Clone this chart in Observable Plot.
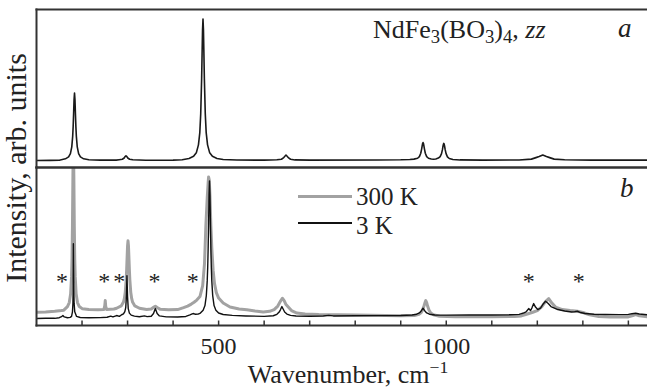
<!DOCTYPE html>
<html><head><meta charset="utf-8">
<script src="https://cdn.jsdelivr.net/npm/d3@7"></script>
<script src="https://cdn.jsdelivr.net/npm/@observablehq/plot@0.6"></script>
<style>
body{margin:0;background:#fff;}
#wrap{position:relative;width:647px;height:391px;overflow:hidden;font-family:"Liberation Serif","Times New Roman","DejaVu Serif",serif;color:#222;}
#wrap svg{position:absolute;left:0;top:0;}
.ov{position:absolute;white-space:nowrap;line-height:1;}
.ov sub{font-size:0.72em;vertical-align:-0.28em;line-height:0;}
.ov sup{font-size:0.68em;vertical-align:0.55em;line-height:0;}
.leg{position:absolute;}
</style></head><body><div id="wrap"></div>
<script>
// Panel a: NdFe3(BO3)4, zz  (wavenumber cm-1, intensity arb. units)
const zzSpectrum = [[100,7.0],[130,7.1],[150,7.3],[163.5,8.7],[170.5,10.6],[174.5,14],[177.5,20.7],[179.5,31.5],[180.5,41],[181.5,54],[182.5,68],[183.5,74.8],[184.5,68],[185.5,54],[186.5,41],[187.5,31.5],[189.5,20.7],[192.5,14],[196.5,10.6],[203.5,8.7],[215,7.8],[240,7.4],[275,7.4],[281.5,7.8],[288.5,8.3],[292.5,9.5],[294.5,10.9],[296.5,11.8],[298.5,10.9],[300.5,9.5],[304.5,8.3],[311.5,7.7],[340,7.3],[400,7.4],[420,7.8],[435,9.0],[445,11.2],[451,14.7],[455.7,22.7],[458.7,35],[460.7,54],[462.7,89],[463.7,114],[464.7,138],[465.7,149],[466.7,138],[467.7,114],[468.7,89],[470.7,54],[472.7,35],[475.7,22.7],[480.4,14.7],[486.4,11.2],[496.4,9.0],[510,8.0],[540,7.5],[600,7.4],[628,7.7],[638,8.3],[643,9.9],[645,11.1],[648,12.5],[651,11.1],[653,9.9],[658,8.3],[668,7.6],[700,7.4],[850,7.5],[900,7.7],[920,8.0],[929,8.4],[937,9.3],[941,10.9],[944,14.3],[946,18.7],[947,21.5],[948,24],[949,25],[950,24],[951,21.5],[952,18.7],[954,14.3],[957,10.9],[961,9.3],[967,8.5],[972,8.3],[977,8.6],[982.6,9.5],[986.6,11],[989.6,13.9],[991.6,17.9],[992.6,20.8],[993.6,23],[994.6,24.2],[995.6,23],[996.6,20.8],[997.6,17.9],[999.6,13.9],[1002.6,10.7],[1006.6,9],[1014.6,8],[1030,7.6],[1080,7.4],[1160,7.5],[1187,8.4],[1197,9.9],[1204,11],[1212,12.5],[1220,11],[1227,9.9],[1237,8.4],[1260,7.7],[1320,7.4],[1442,7.4]];

// Panel b: 300 K
const spec300K = [[100,13.2],[120,13.5],[140,14.2],[155,15],[160,15.4],[168,19],[172,23],[175,32],[177,49],[178,67],[179,100],[180,151],[181,185],[182,151],[183,100],[184,67],[185,49],[187,32],[190,23],[194,19],[201,16.7],[215,16],[235,15.8],[248,16],[250,20],[251,25],[252,19],[254,16],[270,16.5],[276,17.3],[286,19.6],[291,23.5],[293,27.1],[295,33.5],[297,45.9],[298,55.9],[299,68],[300,79.8],[301,85],[302,79.8],[303,68],[304,55.9],[305,45.9],[307,33.5],[309,27.1],[311,23.5],[316,19.6],[326,17.3],[342,16],[352,16.5],[358,18.5],[361,19.3],[365,18],[372,16.2],[390,15.7],[410,16],[423,18],[432,19.5],[440,21.5],[446,23.3],[452,25.5],[459,29],[465,40],[469,62],[472,100],[475,128],[477,143],[478,149],[479.5,146],[481,130],[483,100],[485,78],[488,55],[491,42],[495,33],[500,27.5],[510,22.5],[525,18.5],[545,16.5],[562,15.7],[580,14.5],[598,13.5],[612,14.2],[622,16],[630,19.5],[636,24.5],[640,27.3],[644,25],[648,21],[653,18.5],[660,15],[672,12.5],[690,11.5],[720,11],[800,10.5],[900,9.8],[930,10],[940,11.2],[945,13],[948,15.5],[951,19.5],[953,22.5],[955,25],[957,23],[959,19.5],[962,15.5],[966,12.5],[972,10.8],[985,9.3],[1020,8.8],[1100,8.7],[1150,9],[1165,9.6],[1178,11.5],[1190,13.3],[1200,15],[1210,19],[1218,24],[1225,27],[1232,22.5],[1240,18.5],[1255,16],[1272,15],[1288,14.3],[1300,13],[1315,10.8],[1335,9],[1360,8.5],[1400,8.6],[1410,10],[1416,11],[1424,9.8],[1442,8.6]];

// Panel b: 3 K
const spec3K = [[100,7.0],[120,7.3],[140,7.2],[150,7.8],[155,8.8],[158,10],[161,8.6],[168,7.8],[174,8.1],[177,9.1],[179,13.7],[180,22.4],[180.4,33],[180.8,55],[181,82],[181.3,62],[181.8,40],[182.6,22.4],[184,13.7],[188,9.1],[196,8],[215,7.8],[240,7.9],[255,8.3],[263,9.4],[268,8.6],[276,10],[282,9.2],[287,10.8],[291,11.6],[294,14],[296,18],[297.5,29],[298.2,41.6],[298.7,50],[299.2,41.6],[300,29],[301.5,17],[304,12.4],[308,10.4],[315,9.4],[326,8.8],[337,9.6],[343,8.9],[352,9.3],[357,12],[359,14.5],[361,17],[363,14.5],[365,12],[370,9.6],[385,8.7],[410,8.6],[428,9.1],[437,10.6],[442,11.6],[445,12],[449,11.3],[455,11.4],[460,12.5],[466,15.4],[470,20],[473,30],[475,45],[476,58],[477,77],[478,103],[479,131],[480,145],[481,131],[482,103],[483,77],[484,58],[485,45],[487,30],[490,20],[494,15.4],[500,12.5],[510,11],[530,10.2],[560,9.6],[600,9.2],[620,9.8],[628,11.2],[633,13.5],[636,16],[639,19],[642,16.3],[645,13.6],[650,11.5],[658,10.2],[670,9.5],[700,9.3],[730,9.5],[742,10.2],[752,9.6],[800,9.8],[850,9.9],[900,10.1],[925,10.5],[935,11.3],[941,12.6],[945,14.6],[949,17.3],[953,14.6],[957,12.6],[963,11.3],[975,10.5],[1000,10.4],[1050,10.5],[1100,10.6],[1140,10.8],[1160,11.2],[1170,12.5],[1176,14],[1181,17],[1185,15],[1188,17.5],[1192,22],[1196,18.5],[1201,16],[1207,17.5],[1212,21],[1218,24.3],[1224,22],[1230,19],[1245,16],[1260,14.5],[1275,13.5],[1282,13.8],[1288,14.3],[1295,13],[1305,12],[1325,11.3],[1350,11],[1380,10.9],[1400,11.1],[1408,11.8],[1416,12.3],[1424,11.5],[1442,10.8]];

// asterisk-marked features (cm-1)
const starWaves = [156, 249, 282, 359, 443, 1181, 1291];
const tickLabels = [500, 1000];
const tickMarks = [200, 300, 400, 500, 600, 700, 800, 900, 1000, 1100, 1200, 1300, 1400];
const xDomain = [100, 1442];
const yDomain = [0, 158.5];
const panels = ["a", "b"];

const rows = [
  ...zzSpectrum.map(([w, i]) => ({w, i, series: "zz", panel: "a"})),
  ...spec300K.map(([w, i]) => ({w, i, series: "300 K", panel: "b"})),
  ...spec3K.map(([w, i]) => ({w, i, series: "3 K", panel: "b"}))
];

const frameColor = "#333";
const chart = Plot.plot({
  width: 647, height: 391,
  marginTop: 8, marginBottom: 66, marginLeft: 36, marginRight: 0,
  x: {domain: xDomain, axis: null},
  y: {domain: yDomain, axis: null},
  fy: {domain: panels, axis: null, padding: 0},
  style: {fontFamily: "'Liberation Serif', 'Times New Roman', 'DejaVu Serif', serif", background: "transparent", color: "#222"},
  marks: [
    Plot.line(rows.filter(d => d.series === "300 K"), {x: "w", y: "i", fy: "panel", stroke: "#a2a2a2", strokeWidth: 3, clip: true}),
    Plot.line(rows.filter(d => d.series === "3 K"), {x: "w", y: "i", fy: "panel", stroke: "#111", strokeWidth: 1.4, clip: true}),
    Plot.line(rows.filter(d => d.series === "zz"), {x: "w", y: "i", fy: "panel", stroke: "#1a1a1a", strokeWidth: 1.6, clip: true}),
    Plot.text(starWaves, {x: d => d, fy: () => "b", frameAnchor: "bottom", dy: -37, text: () => "*", fontSize: 24, fill: "#222"}),
    Plot.ruleX(tickMarks, {x: d => d, fy: () => "b", insetTop: 153.5, stroke: frameColor, strokeWidth: 1.5}),
    Plot.frame({anchor: "left", stroke: frameColor, strokeWidth: 2}),
    Plot.frame({anchor: "top", stroke: frameColor, strokeWidth: 2}),
    Plot.frame({anchor: "bottom", stroke: frameColor, strokeWidth: 2}),
    Plot.axisX(tickLabels, {tickSize: 0, tickPadding: 11, fontSize: 24, label: null, fill: "#222", tickFormat: d => String(d)})
  ]
});

const wrap = document.getElementById("wrap");
wrap.appendChild(chart);

function ov(html, style) {
  const d = document.createElement("div");
  d.className = "ov";
  d.innerHTML = html;
  d.setAttribute("style", style);
  wrap.appendChild(d);
  return d;
}
function leg(style) {
  const d = document.createElement("div");
  d.className = "leg";
  d.setAttribute("style", style);
  wrap.appendChild(d);
}

ov("NdFe<sub>3</sub>(BO<sub>3</sub>)<sub>4</sub>, <i>zz</i>", "left:373px;top:17px;font-size:26px;");
ov("<i>a</i>", "left:618px;top:15px;font-size:27px;");
ov("<i>b</i>", "left:620px;top:175px;font-size:27px;");
leg("left:298px;top:194.5px;width:54px;height:3px;background:#a2a2a2;");
leg("left:298px;top:222px;width:54px;height:1.6px;background:#111;");
ov("300 K", "left:356px;top:184px;font-size:25px;");
ov("3 K", "left:356px;top:213px;font-size:25px;");
ov("Wavenumber, cm<sup>&minus;1</sup>", "left:348px;top:362px;font-size:26px;transform:translateX(-50%);");
ov("Intensity, arb. units", "left:16px;top:168px;font-size:30px;transform:translate(-50%,-50%) rotate(-90deg);");
</script>
</body></html>
